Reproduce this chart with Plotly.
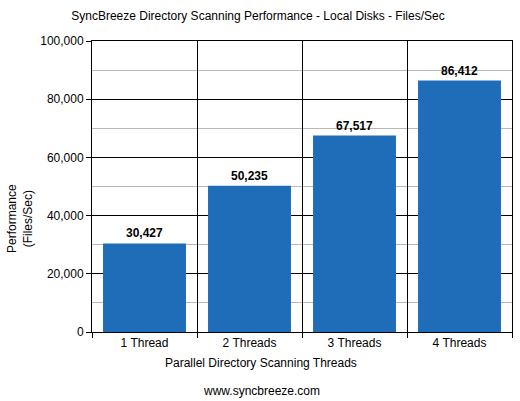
import plotly.graph_objects as go

categories = ["1 Thread", "2 Threads", "3 Threads", "4 Threads"]
values = [30427, 50235, 67517, 86412]
value_labels = ["30,427", "50,235", "67,517", "86,412"]

FONT = "Liberation Sans, Arial, sans-serif"
FS = 12
W, H = 520, 401
L, R, T, B = 92, 8, 41, 69
PW, PH = W - L - R, H - T - B


def px_x(x):
    return (x - L) / PW


def px_y(y):
    return (H - B - y) / PH


fig = go.Figure(
    go.Bar(
        x=categories,
        y=values,
        text=value_labels,
        textposition="outside",
        textfont=dict(family=FONT, size=FS, color="black", weight="bold"),
        marker=dict(color="#1f6db8", line=dict(width=0)),
        width=0.79,
        cliponaxis=False,
    )
)

fig.update_layout(
    width=W,
    height=H,
    margin=dict(l=L, r=R, t=T, b=B, autoexpand=False),
    paper_bgcolor="white",
    plot_bgcolor="white",
    font=dict(family=FONT, size=FS, color="black"),
    title=dict(
        text="SyncBreeze Directory Scanning Performance - Local Disks - Files/Sec",
        x=258 / W, xref="container", xanchor="center",
        yref="container", y=1 - 16 / H, yanchor="middle",
        font=dict(family=FONT, size=FS, color="black"),
    ),
    showlegend=False,
    annotations=[
        dict(text="Parallel Directory Scanning Threads", xref="paper", yref="paper",
             x=px_x(261), xanchor="center", y=px_y(363), yanchor="middle", showarrow=False,
             font=dict(family=FONT, size=FS, color="black")),
        dict(text="www.syncbreeze.com", xref="paper", yref="paper",
             x=px_x(261), xanchor="center", y=px_y(391), yanchor="middle", showarrow=False,
             font=dict(family=FONT, size=FS, color="black")),
        dict(text="Performance<br>(Files/Sec)", xref="paper", yref="paper",
             x=px_x(20), xanchor="center", y=px_y(219), yanchor="middle",
             textangle=-90, showarrow=False,
             font=dict(family=FONT, size=FS, color="black")),
    ],
)

fig.update_xaxes(
    type="category",
    tickson="boundaries",
    automargin=False,
    showgrid=True, gridcolor="black", gridwidth=1,
    ticks="outside", ticklen=5, tickcolor="black",
    showline=True, linecolor="black", linewidth=1, mirror=True,
    tickfont=dict(family=FONT, size=FS),
)

fig.update_yaxes(
    range=[0, 100000],
    dtick=20000,
    tickformat=",d",
    automargin=False,
    showgrid=True, gridcolor="black", gridwidth=1,
    minor=dict(dtick=10000, showgrid=True, gridcolor="#b8b8b8", gridwidth=1),
    ticks="outside", ticklen=5, tickcolor="black",
    showline=True, linecolor="black", linewidth=1, mirror=True,
    zeroline=False,
    tickfont=dict(family=FONT, size=FS),
)

fig.write_html(
    "out.html",
    config={"displayModeBar": False},
    post_script="document.body.style.margin='0';",
)
